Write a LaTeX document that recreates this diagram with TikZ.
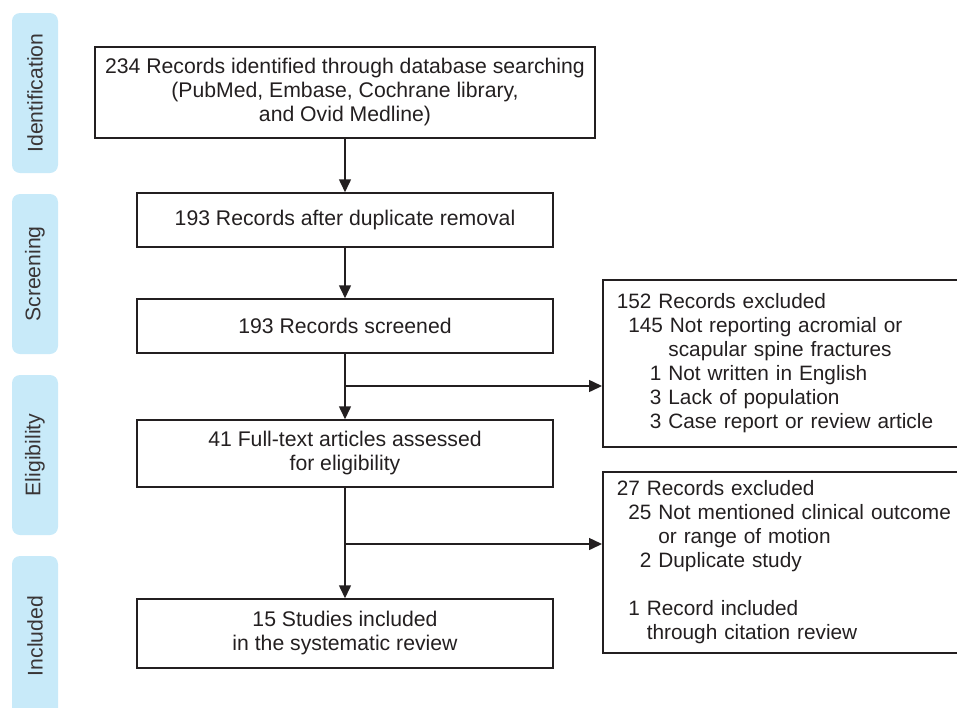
\documentclass[tikz,border=0pt]{standalone}
\usepackage{fontspec}
\setmainfont{Liberation Sans}
\usetikzlibrary{arrows.meta}
\hyphenpenalty=10000
\definecolor{ink}{RGB}{35,31,32}
\definecolor{phase}{RGB}{200,234,249}
\tikzstyle{stage}=[draw=ink,line width=0.75pt,rectangle,align=center,text=ink,inner sep=0pt,font=\fontsize{10.6}{12}\selectfont]
\tikzstyle{excluded}=[draw=ink,line width=0.75pt,rectangle,align=left,text=ink,anchor=west,inner xsep=7pt,inner ysep=0pt,text width=176pt,font=\fontsize{10.4}{12}\selectfont]
\tikzstyle{phasebar}=[fill=phase,rounded corners=4pt,rotate=90,minimum width=80pt,minimum height=23pt,inner sep=0pt,text=ink!90,font=\fontsize{10.6}{12}\selectfont]
\tikzstyle{flow}=[draw=ink,line width=0.75pt,-{Triangle[length=6.5pt,width=6pt]}]

\begin{document}
\begin{tikzpicture}[x=0.5pt,y=-0.5pt]
\useasboundingbox (0,0) rectangle (957,707);
\node[phasebar] (identification) at (35,93) {Identification};
\node[phasebar] (screening) at (35,274) {Screening};
\node[phasebar] (eligibility) at (35,455) {Eligibility};
\node[phasebar] (included) at (35,636) {Included};

\node[stage,minimum width=250pt,minimum height=45.5pt] (search) at (345,92.5) {234 Records identified through database searching\\(PubMed, Embase, Cochrane library,\\and Ovid Medline)};
\node[stage,minimum width=208pt,minimum height=27pt] (dedup) at (345,220) {193 Records after duplicate removal};
\node[stage,minimum width=208pt,minimum height=27pt] (screened) at (345,326) {193 Records screened};
\node[stage,minimum width=208pt,minimum height=33.5pt] (fulltext) at (345,453.5) {41 Full-text articles assessed\\for eligibility};
\node[stage,minimum width=208pt,minimum height=34.5pt] (studies) at (345,633.5) {15 Studies included\\in the systematic review};

\node[excluded,minimum height=83.5pt] (excl1) at (602,363.5) {152 Records excluded\\
\phantom{1}145 Not reporting acromial or\\
\phantom{1145\ }scapular spine fractures\\
\phantom{114}1 Not written in English\\
\phantom{114}3 Lack of population\\
\phantom{114}3 Case report or review article};
\node[excluded,minimum height=90.5pt] (excl2) at (602,562.5) {27 Records excluded\\
\phantom{2}25 Not mentioned clinical outcome\\
\phantom{225\ }or range of motion\\
\phantom{22}2 Duplicate study\\[12pt]
\phantom{2}1 Record included\\
\phantom{21\ }through citation review};

\coordinate (split1) at (345,386);
\coordinate (split2) at (345,544);

\draw[flow] (search)--(dedup);
\draw[flow] (dedup)--(screened);
\draw[flow] (screened)--(fulltext);
\draw[flow] (fulltext)--(studies);
\draw[flow] (split1)--(split1 -| excl1.west);
\draw[flow] (split2)--(split2 -| excl2.west);
\end{tikzpicture}
\end{document}
